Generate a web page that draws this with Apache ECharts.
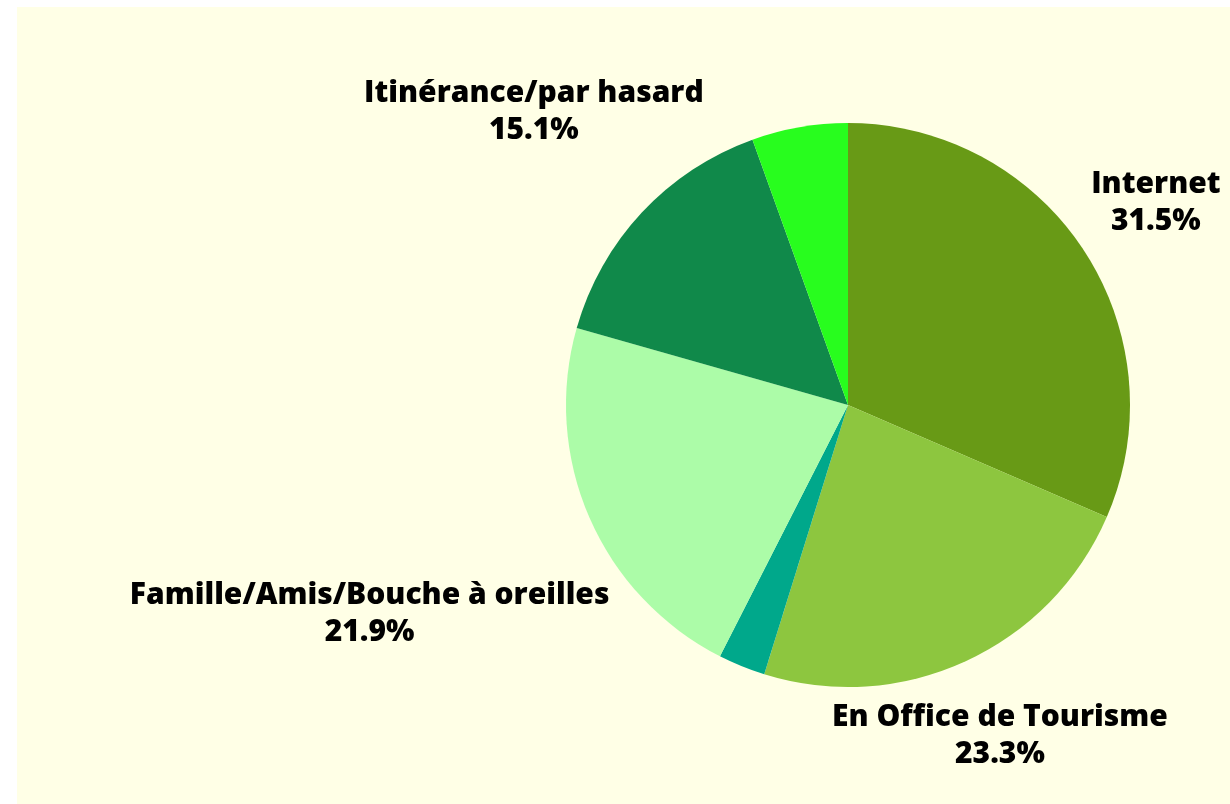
<!DOCTYPE html>
<html>
<head>
<meta charset="utf-8">
<script src="https://cdn.jsdelivr.net/npm/echarts@6/dist/echarts.min.js"></script>
<style>
  html, body { margin: 0; padding: 0; background: #ffffff; }
  #chart {
    position: absolute;
    left: 17px;
    top: 7px;
    width: 1213px;
    height: 797px;
  }
</style>
</head>
<body>
<div id="chart"></div>
<script>
const categories = [
  "Internet",
  "En Office de Tourisme",
  "Autre",
  "Famille/Amis/Bouche à oreilles",
  "Itinérance/par hasard",
  "Non précisé",
];
const values = [31.5, 23.3, 2.7, 21.9, 15.1, 5.5];
const showLabel = [true, true, false, true, true, false];
const colors = ["#689a16", "#8dc63f", "#00a88b", "#acfca8", "#10894a", "#28fd1e"];

const CENTER = [831, 398];
const RADIUS = 282;
const LABEL_GAP = 12;

const total = values.reduce((sum, v) => sum + v, 0);

// mid angle of each slice, clockwise from 12 o'clock
const midAngles = [];
let acc = 0;
values.forEach((v) => {
  midAngles.push(((acc + v / 2) / total) * Math.PI * 2);
  acc += v;
});

// push the label box out along the slice's mid angle until
// its closest point is LABEL_GAP away from the pie edge
function placeLabel(dataIndex, halfW, halfH) {
  const theta = midAngles[dataIndex];
  const ux = Math.sin(theta);
  const uy = -Math.cos(theta);
  const clearance = (d) => {
    const cx = d * ux;
    const cy = d * uy;
    const px = Math.min(Math.max(0, cx - halfW), cx + halfW);
    const py = Math.min(Math.max(0, cy - halfH), cy + halfH);
    return Math.hypot(px, py);
  };
  let lo = 0;
  let hi = RADIUS * 4;
  for (let i = 0; i < 40; i++) {
    const mid = (lo + hi) / 2;
    if (clearance(mid) < RADIUS + LABEL_GAP) lo = mid;
    else hi = mid;
  }
  return [CENTER[0] + hi * ux, CENTER[1] + hi * uy];
}

const chart = echarts.init(document.getElementById("chart"));
chart.setOption({
  backgroundColor: "#ffffe6",
  animation: false,
  series: [
    {
      type: "pie",
      center: CENTER,
      radius: RADIUS,
      startAngle: 90,
      clockwise: true,
      avoidLabelOverlap: false,
      itemStyle: { borderWidth: 0 },
      label: {
        show: true,
        position: "outside",
        fontFamily: "Open Sans",
        fontWeight: 800,
        fontSize: 30,
        lineHeight: 37,
        color: "#000000",
        formatter: (p) => `${p.name}\n${p.value.toFixed(1)}%`,
      },
      labelLine: { show: false },
      emphasis: { disabled: true },
      labelLayout: (params) => {
        const rect = params.labelRect;
        const [x, y] = placeLabel(params.dataIndex, rect.width / 2, rect.height / 2);
        return { x, y, align: "center", verticalAlign: "middle" };
      },
      data: categories.map((name, i) => ({
        name,
        value: values[i],
        itemStyle: { color: colors[i] },
        label: { show: showLabel[i] },
      })),
    },
  ],
});
</script>
</body>
</html>
